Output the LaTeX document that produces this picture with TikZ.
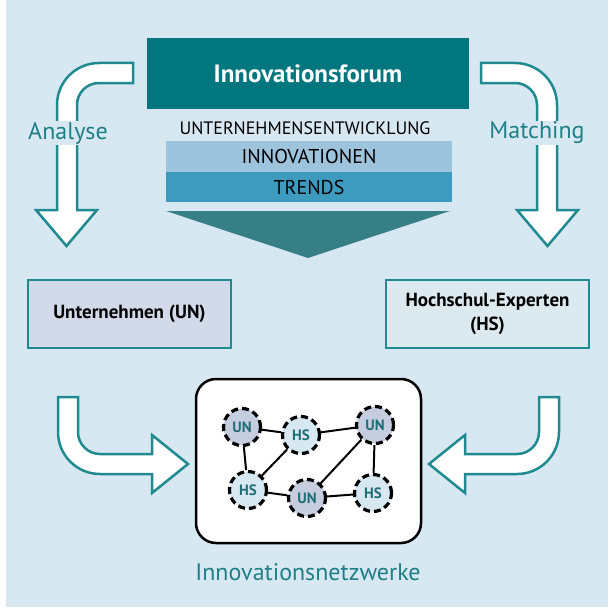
\documentclass[tikz,border=0pt]{standalone}
\usepackage{fontspec}
\setmainfont{PT Sans}
\usepackage{tikz}
\usetikzlibrary{positioning}

\definecolor{bgblue}{HTML}{D8E8F2}
\definecolor{forumteal}{HTML}{00767F}
\definecolor{lineteal}{HTML}{1F8A8F}
\definecolor{textteal}{HTML}{1F7F86}
\definecolor{nodeteal}{HTML}{1F6E77}
\definecolor{innoblue}{HTML}{9DC4DC}
\definecolor{trendblue}{HTML}{3C9BBF}
\definecolor{wedgeteal}{HTML}{367F86}
\definecolor{unfill}{HTML}{D2D9E8}
\definecolor{hsfill}{HTML}{DCE9EE}
\definecolor{undot}{HTML}{C6CDDF}

\begin{document}
\begin{tikzpicture}[x=1pt, y=-1pt,
    band/.style={minimum width=286pt, inner sep=0pt, font=\fontsize{20}{20}\selectfont},
    box/.style={draw=lineteal, line width=2pt, minimum width=203pt, minimum height=68pt,
        align=center, font=\bfseries\fontsize{19}{24}\selectfont},
    flowarrow/.style={draw=lineteal, line width=2.5pt, fill=white, line join=miter},
    sidelabel/.style={text=textteal, fill=bgblue, inner sep=1pt, font=\fontsize{24}{24}\selectfont},
    dot/.style={circle, draw, line width=3.2pt, dash pattern=on 7pt off 4pt, minimum size=37pt,
        inner sep=0pt, text=nodeteal, font=\bfseries\fontsize{15}{15}\selectfont},
    un/.style={dot, fill=undot},
    hs/.style={dot, fill=bgblue},
    link/.style={line width=2pt}]
    \useasboundingbox (0,0) rectangle (608,610);
    \fill[bgblue] (6,0) rectangle (608,607);

    % forum and its layers
    \node (forum) [fill=forumteal, minimum width=322pt, minimum height=70pt, text=white,
        font=\bfseries\fontsize{25}{25}\selectfont] at (308,73.5) {Innovationsforum};
    \node (dev)   [font=\fontsize{18}{18}\selectfont] at (305,128) {UNTERNEHMENSENTWICKLUNG};
    \node (inno)  [band, fill=innoblue, minimum height=31pt] at (309,156.5) {INNOVATIONEN};
    \node (trend) [band, fill=trendblue, minimum height=30pt, below=0pt of inno] {TRENDS};
    \fill[wedgeteal] (166,211) -- (450,211) -- (308,258) -- cycle;

    % upper arrows
    \draw[flowarrow] (133,63) -- (99,63) arc[start angle=270, end angle=180, radius=42]
        -- (57,210) -- (36,210) -- (66.5,246) -- (97,210) -- (77,210) -- (77,105)
        arc[start angle=180, end angle=270, radius=22] -- (133,83) -- cycle;
    \draw[flowarrow] (481,63) -- (515,63) arc[start angle=270, end angle=360, radius=42]
        -- (557,210) -- (578,210) -- (547.5,246) -- (517,210) -- (537,210) -- (537,105)
        arc[start angle=360, end angle=270, radius=22] -- (481,83) -- cycle;
    \node (ana) [sidelabel] at (68,133) {Analyse};
    \node (mat) [sidelabel] at (537,133) {Matching};

    % partners
    \node (UN) [box, fill=unfill] at (129.5,313.5) {Unternehmen (UN)};
    \node (HS) [box, fill=hsfill] at (487.5,313.5) {Hochschul-Experten\\(HS)};

    % lower arrows
    \draw[flowarrow] (58,397) -- (58,432) arc[start angle=180, end angle=90, radius=42]
        -- (152,474) -- (152,493) -- (188,464) -- (152,435) -- (152,454) -- (100,454)
        arc[start angle=90, end angle=180, radius=22] -- (78,397) -- cycle;
    \draw[flowarrow] (559,397) -- (559,432) arc[start angle=0, end angle=90, radius=42]
        -- (465,474) -- (465,493) -- (429,464) -- (465,435) -- (465,454) -- (517,454)
        arc[start angle=90, end angle=0, radius=22] -- (539,397) -- cycle;

    % network
    \draw[line width=2.5pt, fill=white, rounded corners=20pt] (196,379) rectangle (421,543);
    \node (u1) [un] at (242,427) {UN};
    \node (h1) [hs] at (301,435) {HS};
    \node (u2) [un] at (375,425) {UN};
    \node (h2) [hs] at (248,490) {HS};
    \node (u3) [un] at (307,498) {UN};
    \node (h3) [hs] at (373,493) {HS};
    \draw[link] (u1) -- (h1) -- (u2) -- (u3) -- (h3) -- (u2);
    \draw[link] (u1) -- (h2) -- (h1);
    \draw[link] (h2) -- (u3);
    \node (net) [text=textteal, font=\fontsize{24}{24}\selectfont] at (308,572) {Innovationsnetzwerke};
\end{tikzpicture}
\end{document}
